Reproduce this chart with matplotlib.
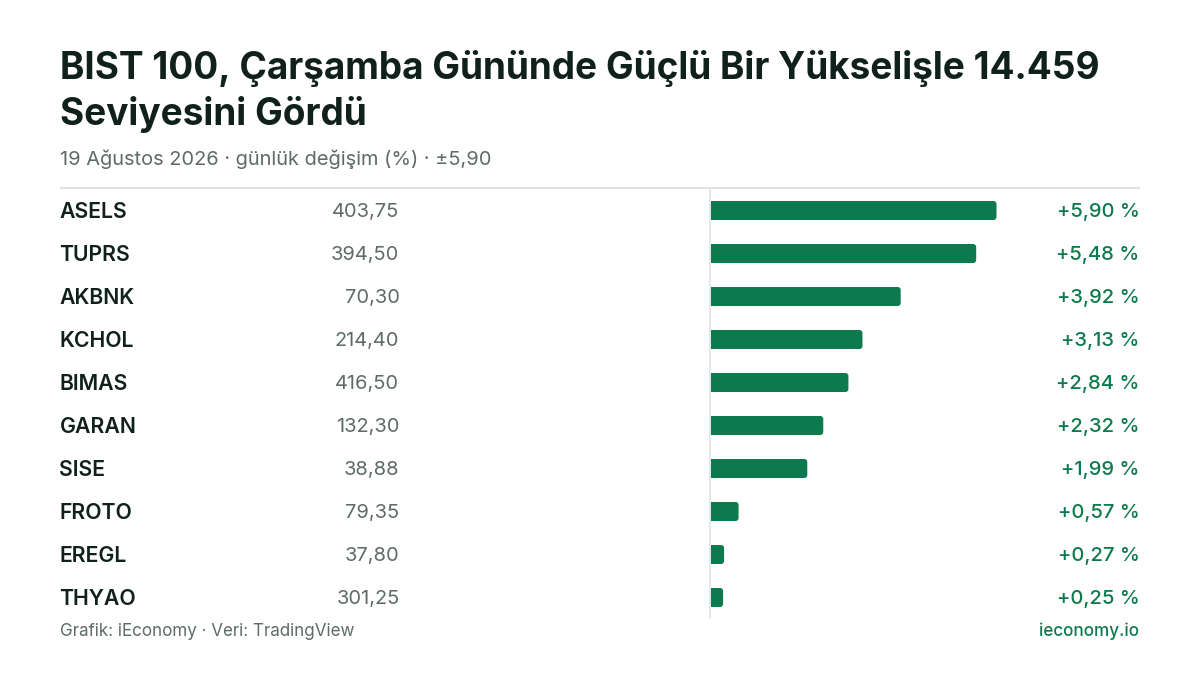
import matplotlib
matplotlib.use('Agg')
import matplotlib.pyplot as plt
from matplotlib.patches import FancyBboxPatch, Rectangle

plt.rcParams['font.family'] = ['Inter', 'DejaVu Sans']

# veriler
tickers = ['ASELS', 'TUPRS', 'AKBNK', 'KCHOL', 'BIMAS', 'GARAN', 'SISE', 'FROTO', 'EREGL', 'THYAO']
prices = ['403,75', '394,50', '70,30', '214,40', '416,50', '132,30', '38,88', '79,35', '37,80', '301,25']
changes = [5.90, 5.48, 3.92, 3.13, 2.84, 2.32, 1.99, 0.57, 0.27, 0.25]
title_lines = ['BIST 100, Çarşamba Gününde Güçlü Bir Yükselişle 14.459', 'Seviyesini Gördü']
subtitle = '19 Ağustos 2026 · günlük değişim (%) · ±5,90'
source = 'Grafik: iEconomy · Veri: TradingView'
site = 'ieconomy.io'

GREEN = '#0d7a4e'
DARK = '#10201c'
GREY = '#5f6b68'

fig = plt.figure(figsize=(12, 6.75), dpi=100, facecolor='white')

# tum figur icin piksel koordinatli eksen, y asagi dogru
bg = fig.add_axes([0, 0, 1, 1])
bg.set_xlim(0, 1200)
bg.set_ylim(675, 0)
bg.axis('off')

bg.text(60, 79, title_lines[0], fontsize=26.63, fontweight='bold', color=DARK, va='baseline')
bg.text(60, 125, title_lines[1], fontsize=26.63, fontweight='bold', color=DARK, va='baseline')
bg.text(60, 165, subtitle, fontsize=14.4, color=GREY, va='baseline')
bg.plot([60, 1140], [188, 188], color='#dfe3e2', lw=1.5, solid_capstyle='butt')
bg.plot([710, 710], [188, 619], color='#dfe3e2', lw=1.2, solid_capstyle='butt')

# 行的位置
row_y = [210.5 + 43 * i for i in range(len(tickers))]
scale = 285.5 / 5.90

for y, name, price, val in zip(row_y, tickers, prices, changes):
    bg.text(59.4, y + 7.6, name, fontsize=15.3, fontweight='semibold', color=DARK, va='baseline')
    bg.text(399.5, y + 6.6, price, fontsize=14.4, color=GREY, va='baseline', ha='right')
    w = val * scale
    bg.add_patch(FancyBboxPatch((711, y - 9.5), w, 19, boxstyle='round,pad=0,rounding_size=3',
                                fc=GREEN, ec='none', mutation_aspect=1))
    # sol kenar kose yok
    bg.add_patch(Rectangle((711, y - 9.5), min(w, 5), 19, fc=GREEN, ec='none'))
    label = '+' + f'{val:.2f}'.replace('.', ',') + ' %'
    bg.text(1139.5, y + 6.6, label, fontsize=14.5, fontweight='medium', color=GREEN, va='baseline', ha='right')

bg.text(60, 636, source, fontsize=12.24, color=GREY, va='baseline')
bg.text(1139.5, 636, site, fontsize=12.3, fontweight='medium', color=GREEN, va='baseline', ha='right')

fig.savefig('out.png', dpi=100, facecolor='white')
